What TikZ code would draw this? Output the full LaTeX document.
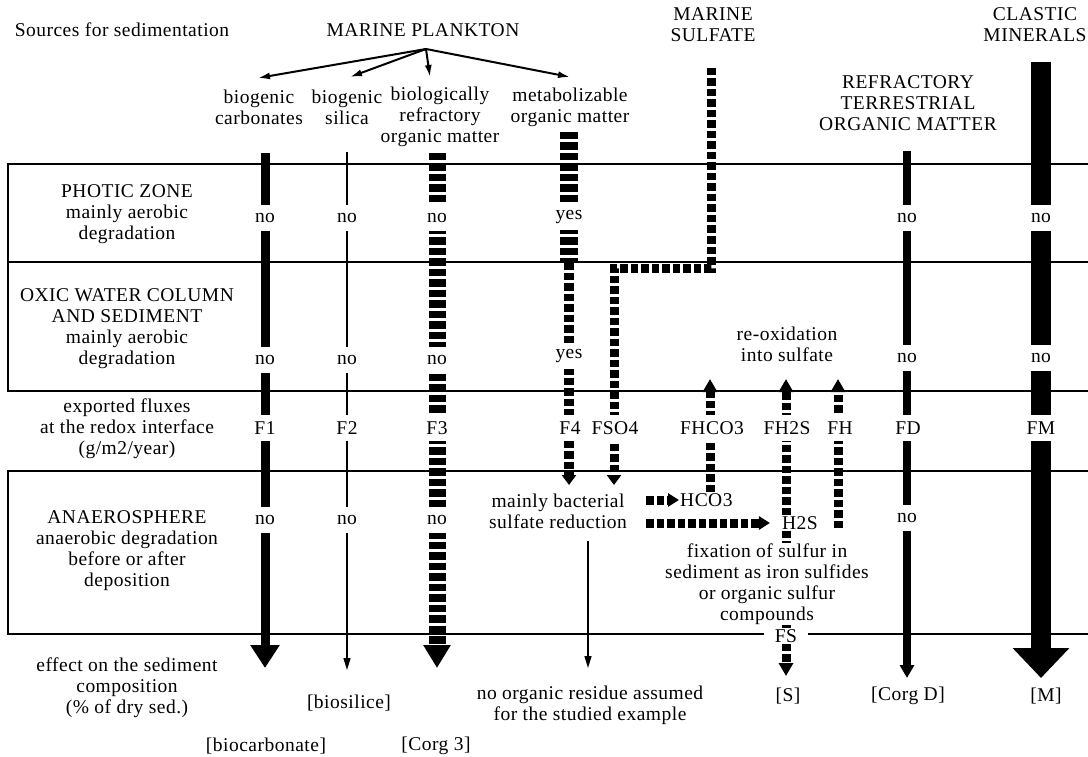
\documentclass[tikz,border=0pt]{standalone}
\usepackage{fontspec}
\setmainfont{Liberation Serif}[LetterSpace=2.5]
\usetikzlibrary{arrows.meta,positioning}
\pgfdeclarelayer{bars}
\pgfsetlayers{bars,main}

\begin{document}
\begin{tikzpicture}[x=1pt, y=-1pt,
    every node/.style={font=\fontsize{19.5}{21}\selectfont, align=center, inner sep=1pt},
    zone/.style={line width=2pt},
    tag/.style={fill=white, minimum width=26pt, minimum height=26pt, inner sep=0pt},
    chem/.style={fill=white, inner sep=1pt},
    fluxbar/.style={line width=#1pt},
    fluxdash/.style={line width=#1pt, dash pattern=on 7.5pt off 3pt},
    head/.style 2 args={-{Triangle[width=#1pt, length=#2pt]}},
    split/.style={line width=2pt, -{Latex[width=7pt, length=12pt]}}
  ]
  \useasboundingbox (0,0) rectangle (1088,757);

  % sources
  \node (sources) at (122,30) {Sources for sedimentation};
  \node (plankton) at (423,30) {MARINE PLANKTON};
  \node (sulfate) at (713,25) {MARINE\\SULFATE};
  \node (terr) at (908,103) {REFRACTORY\\TERRESTRIAL\\ORGANIC MATTER};
  \node (clastic) at (1035,25) {CLASTIC\\MINERALS};
  \node (carb) at (259,107) {biogenic\\carbonates};
  \node (sil) at (347,107) {biogenic\\silica};
  \node (refr) at (440,117) {biologically\\refractory\\organic matter};
  \node (metab) at (570,107) {metabolizable\\organic matter};

  % zones
  \node (photic) at (127,214) {PHOTIC ZONE\\mainly aerobic\\degradation};
  \node (oxic) at (127,329) {OXIC WATER COLUMN\\AND SEDIMENT\\mainly aerobic\\degradation};
  \node (export) at (127,429) {exported fluxes\\at the redox interface\\(g/m2/year)};
  \node (anaero) at (127,551) {ANAEROSPHERE\\anaerobic degradation\\before or after\\deposition};
  \node (effect) at (127,688) {effect on the sediment\\composition\\(\% of dry sed.)};

  % tags on the columns
  \node[tag] (F1p) at (265,218) {no};
  \node[tag] (F1o) at (265,360) {no};
  \node[tag] (F1) at (265,428) {F1};
  \node[tag] (F1a) at (265,520) {no};
  \node[tag] (F2p) at (347,218) {no};
  \node[tag] (F2o) at (347,360) {no};
  \node[tag] (F2) at (347,428) {F2};
  \node[tag] (F2a) at (347,520) {no};
  \node[tag] (F3p) at (437,218) {no};
  \node[tag] (F3o) at (437,360) {no};
  \node[tag] (F3) at (437,428) {F3};
  \node[tag] (F3a) at (437,520) {no};
  \node[tag] (F4p) at (569,217) {yes};
  \node[tag] (F4o) at (569,356) {yes};
  \node[tag] (F4) at (570,428) {F4};
  \node[tag] (FSO4) at (615,428) {FSO4};
  \node[tag] (FHCO3) at (712,428) {FHCO3};
  \node[tag] (FH2S) at (787,428) {FH2S};
  \node[tag] (FH) at (840,428) {FH};
  \node[tag] (FDp) at (907,218) {no};
  \node[tag] (FDo) at (907,358) {no};
  \node[tag] (FD) at (908,428) {FD};
  \node[tag] (FDa) at (907,518) {no};
  \node[tag] (FMp) at (1041,218) {no};
  \node[tag] (FMo) at (1041,358) {no};
  \node[tag] (FM) at (1041,428) {FM};

  % sulfate cycle
  \node (redox) at (787,344) {re-oxidation\\into sulfate};
  \node (react) at (558,511) {mainly bacterial\\sulfate reduction};
  \node[chem, anchor=west] (hco) at (679,500) {HCO3};
  \node[chem, inner xsep=12pt] (hs) at (800,523) {H2S};
  \node[chem] (fix) at (767,584) {fixation of sulfur in\\sediment as iron sulfides\\or organic sulfur\\compounds};
  \node[chem, inner xsep=11pt] (fs) at (786,636) {FS};

  % sediment
  \node (biocarb) at (266,746) {[biocarbonate]};
  \node (biosil) at (349,703) {[biosilice]};
  \node (corg3) at (436,746) {[Corg 3]};
  \node (residue) at (590,705) {no organic residue assumed\\for the studied example};
  \node (sres) at (788,696) {[S]};
  \node (corgd) at (908,696) {[Corg D]};
  \node (mres) at (1046,696) {[M]};

  % free ends
  \coordinate (src) at (426,49);
  \coordinate (tcarb) at (258,78);
  \coordinate (tsil) at (350,77);
  \coordinate (trefr) at (430,77);
  \coordinate (tmetab) at (570,77);
  \coordinate (F1top) at (265,153);  \coordinate (F1end) at (265,668);
  \coordinate (F2top) at (347,152);  \coordinate (F2end) at (347,670);
  \coordinate (F3top) at (437,153);  \coordinate (F3end) at (437,668);
  \coordinate (F4top) at (569,132);  \coordinate (F4mid) at (569,262);
  \coordinate (F4end) at (569,485);
  \coordinate (SO4top) at (711,68);  \coordinate (SO4turn) at (711,268);
  \coordinate (SO4bend) at (614,268); \coordinate (SO4end) at (614,485);
  \coordinate (HCOend) at (710,379);
  \coordinate (HSend) at (786,379);
  \coordinate (FHbot) at (838,528);  \coordinate (FHend) at (838,379);
  \coordinate (FDtop) at (907,151);  \coordinate (FDend) at (907,678);
  \coordinate (FMtop) at (1041,62);  \coordinate (FMend) at (1041,678);
  \coordinate (restop) at (588,541); \coordinate (resend) at (588,668);
  \coordinate (Send) at (786,676);

  \draw[split] (src) -- (tcarb);
  \draw[split] (src) -- (tsil);
  \draw[split] (src) -- (trefr);
  \draw[split] (src) -- (tmetab);

  \begin{pgfonlayer}{bars}
    % zone boundaries
    \draw[zone] (1088,164) -- (8,164) -- (8,391) -- (1088,391);
    \draw[zone] (8,262) -- (1088,262);
    \draw[zone] (1088,471) -- (8,471) -- (8,634) -- (1088,634);

    % fluxes
    \draw[fluxbar=9, head={28}{23}] (F1top) -- (F1end);
    \draw[fluxbar=1.5, head={7}{12}] (F2top) -- (F2end);
    \draw[fluxdash=17, head={26}{23}] (F3top) -- (F3end);
    \draw[fluxdash=18] (F4top) -- (F4mid);
    \draw[fluxdash=10, head={14}{10}] (F4mid) -- (F4end);
    \draw[fluxdash=9, head={14}{10}] (SO4top) -- (SO4turn) -- (SO4bend) -- (SO4end);
    \draw[fluxdash=9, head={13}{11}, shorten <=18pt] (react.east |- hco.west) -- (hco.west);
    \draw[fluxdash=9, head={13}{11}, shorten <=18pt] (react.east |- hs.west) -- (hs.west);
    \draw[fluxdash=9, head={14}{13}] (hco.north -| HCOend) -- (HCOend);
    \draw[fluxdash=9, head={14}{13}] (hs.north -| HSend) -- (HSend);
    \draw[fluxdash=9] (hs.south -| HSend) -- (fs.north);
    \draw[fluxdash=9, head={14}{13}] (FHbot) -- (FHend);
    \draw[fluxdash=9, head={14}{13}] (fs.south) -- (Send);
    \draw[fluxbar=1.5, head={7}{12}] (restop) -- (resend);
    \draw[fluxbar=8, head={14}{13}] (FDtop) -- (FDend);
    \draw[fluxbar=20, head={55}{30}] (FMtop) -- (FMend);
  \end{pgfonlayer}
\end{tikzpicture}
\end{document}
